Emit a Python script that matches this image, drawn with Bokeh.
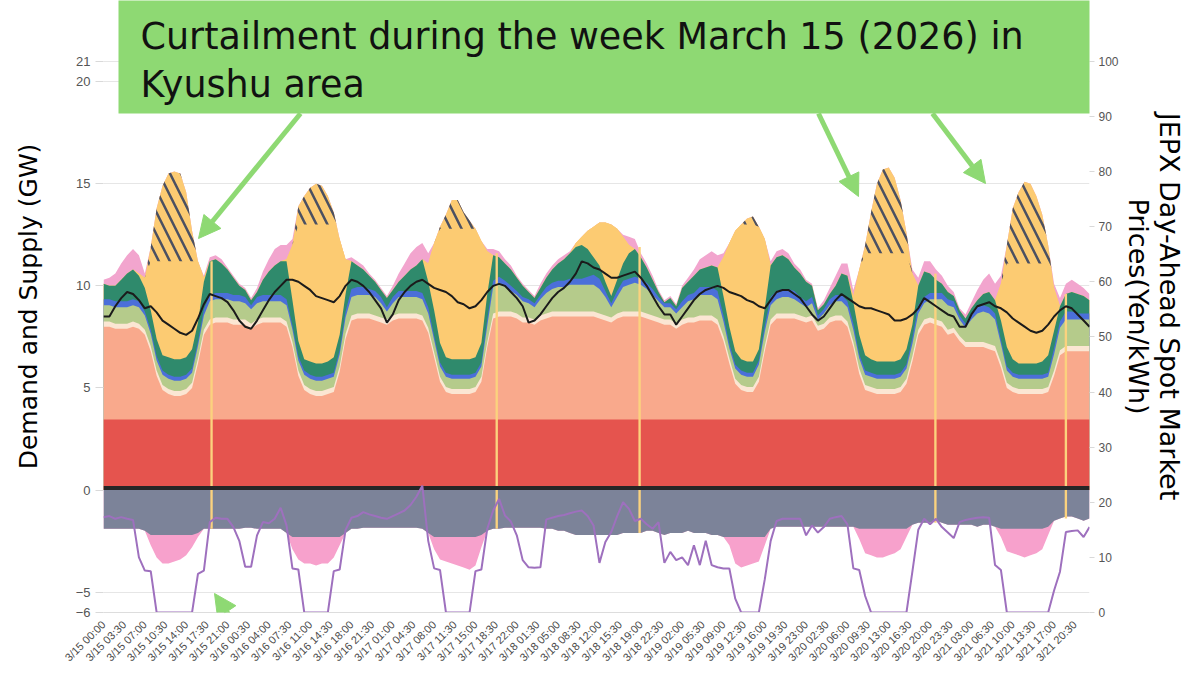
import numpy as np
from bokeh.plotting import figure
from bokeh.models import Range1d, LinearAxis, FixedTicker, BoxAnnotation, Label, Arrow, NormalHead
from bokeh.embed import file_html
from bokeh.resources import INLINE

# ---------------- data (hourly readings, hours since 3/15 00:00) ----------------
hours = list(range(168))

x_tick_labels = [
    "3/15 00:00", "3/15 03:30", "3/15 07:00", "3/15 10:30", "3/15 14:00", "3/15 17:30", "3/15 21:00",
    "3/16 00:30", "3/16 04:00", "3/16 07:30", "3/16 11:00", "3/16 14:30", "3/16 18:00", "3/16 21:30",
    "3/17 01:00", "3/17 04:30", "3/17 08:00", "3/17 11:30", "3/17 15:00", "3/17 18:30", "3/17 22:00",
    "3/18 01:30", "3/18 05:00", "3/18 08:30", "3/18 12:00", "3/18 15:30", "3/18 19:00", "3/18 22:30",
    "3/19 02:00", "3/19 05:30", "3/19 09:00", "3/19 12:30", "3/19 16:00", "3/19 19:30", "3/19 23:00",
    "3/20 02:30", "3/20 06:00", "3/20 09:30", "3/20 13:00", "3/20 16:30", "3/20 20:00", "3/20 23:30",
    "3/21 03:00", "3/21 06:30", "3/21 10:00", "3/21 13:30", "3/21 17:00", "3/21 20:30",
]
left_ticks = [-6, -5, 0, 5, 10, 15, 20, 21]
right_ticks = [0, 10, 20, 30, 40, 50, 60, 70, 80, 90, 100]

other_gw = 0.2      # thin dark band at zero
nuclear_gw = 3.25   # flat red band
biomass_gw = 0.25   # thin cream band on top of thermal

thermal_gw = [
    4.55, 4.55, 4.45, 4.45, 4.45, 4.55, 4.45, 4.15, 3.35, 2.15, 1.45, 1.25, 1.15, 1.15, 1.25, 1.55, 2.75, 4.15, 4.65, 4.75, 4.75, 4.75, 4.65, 4.65,
    4.65, 4.45, 4.65, 4.75, 4.75, 4.75, 4.75, 4.55, 3.55, 2.15, 1.45, 1.25, 1.15, 1.15, 1.25, 1.35, 2.35, 3.95, 4.85, 4.95, 4.95, 4.95, 4.85, 4.75,
    4.65, 4.85, 4.95, 4.95, 4.95, 4.95, 4.85, 4.25, 3.05, 1.85, 1.35, 1.25, 1.25, 1.25, 1.25, 1.35, 1.85, 3.55, 4.95, 5.05, 5.05, 5.05, 4.95, 4.75,
    4.75, 4.65, 4.85, 4.95, 5.05, 5.05, 5.05, 5.05, 5.05, 5.05, 5.05, 5.05, 4.95, 4.85, 4.75, 4.95, 5.05, 5.05, 5.05, 5.05, 4.95, 4.85, 4.75, 4.65,
    4.65, 4.45, 4.65, 4.75, 4.75, 4.85, 4.85, 4.85, 4.65, 3.85, 2.75, 1.75, 1.45, 1.35, 1.35, 1.85, 3.35, 4.65, 4.95, 4.95, 4.95, 4.95, 4.85, 4.75,
    4.85, 4.35, 4.45, 4.75, 4.85, 4.85, 4.55, 3.55, 2.25, 1.45, 1.35, 1.25, 1.25, 1.25, 1.25, 1.35, 1.75, 2.85, 4.15, 4.65, 4.75, 4.65, 4.55, 4.15,
    4.25, 3.85, 3.55, 3.55, 3.55, 3.55, 3.45, 3.35, 2.55, 1.55, 1.35, 1.25, 1.25, 1.25, 1.25, 1.25, 1.35, 2.15, 3.15, 3.35, 3.35, 3.35, 3.35, 3.35,
]
geothermal_gw = [
    0.8, 0.8, 0.8, 0.8, 0.8, 0.8, 0.8, 0.7, 0.6, 0.5, 0.5, 0.5, 0.5, 0.5, 0.5, 0.5, 0.6, 0.7, 0.9, 0.9, 0.9, 0.9, 0.9, 0.9,
    0.8, 0.7, 0.8, 0.8, 0.8, 0.8, 0.8, 0.8, 0.6, 0.5, 0.5, 0.5, 0.5, 0.5, 0.5, 0.5, 0.6, 0.8, 0.9, 0.9, 0.9, 0.9, 0.9, 0.7,
    0.4, 0.6, 0.8, 0.8, 0.8, 0.8, 0.8, 0.7, 0.6, 0.5, 0.5, 0.5, 0.5, 0.5, 0.5, 0.5, 0.5, 0.8, 1.3, 1.4, 1.2, 1.0, 0.9, 0.8,
    0.7, 0.6, 0.8, 1.0, 1.1, 1.2, 1.2, 1.3, 1.3, 1.3, 1.3, 1.3, 1.2, 0.9, 0.5, 0.8, 1.2, 1.3, 1.4, 1.3, 1.2, 1.0, 0.8, 0.6,
    0.6, 0.5, 0.6, 0.8, 0.9, 1.0, 1.0, 1.0, 1.0, 0.7, 0.5, 0.5, 0.5, 0.5, 0.5, 0.6, 0.7, 0.7, 0.7, 0.8, 0.8, 0.7, 0.6, 0.5,
    0.6, 0.3, 0.5, 0.6, 0.7, 0.7, 0.7, 0.6, 0.5, 0.5, 0.5, 0.5, 0.5, 0.5, 0.5, 0.5, 0.5, 0.6, 0.8, 0.8, 0.9, 1.0, 1.1, 1.2,
    1.0, 0.8, 0.7, 1.1, 1.4, 1.5, 1.5, 1.3, 0.9, 0.6, 0.5, 0.5, 0.5, 0.5, 0.5, 0.5, 0.5, 0.8, 1.1, 1.3, 1.3, 1.3, 1.3, 1.3,
]
wind_gw = [
    0.3, 0.3, 0.3, 0.3, 0.3, 0.3, 0.3, 0.2, 0.2, 0.2, 0.2, 0.2, 0.2, 0.2, 0.2, 0.2, 0.2, 0.3, 0.3, 0.3, 0.3, 0.3, 0.3, 0.3,
    0.3, 0.2, 0.3, 0.3, 0.3, 0.3, 0.3, 0.3, 0.2, 0.2, 0.2, 0.2, 0.2, 0.2, 0.2, 0.2, 0.2, 0.3, 0.4, 0.4, 0.4, 0.3, 0.3, 0.3,
    0.2, 0.3, 0.3, 0.3, 0.3, 0.3, 0.3, 0.3, 0.2, 0.2, 0.2, 0.2, 0.2, 0.2, 0.2, 0.2, 0.2, 0.3, 0.3, 0.3, 0.3, 0.25, 0.2, 0.2,
    0.2, 0.2, 0.2, 0.3, 0.3, 0.3, 0.3, 0.3, 0.3, 0.3, 0.4, 0.5, 0.5, 0.3, 0.2, 0.3, 0.3, 0.3, 0.3, 0.3, 0.3, 0.3, 0.2, 0.2,
    0.2, 0.2, 0.3, 0.3, 0.3, 0.4, 0.4, 0.4, 0.4, 0.3, 0.2, 0.2, 0.2, 0.2, 0.2, 0.2, 0.3, 0.4, 0.4, 0.4, 0.4, 0.4, 0.3, 0.3,
    0.3, 0.2, 0.2, 0.3, 0.3, 0.3, 0.3, 0.3, 0.2, 0.2, 0.2, 0.2, 0.2, 0.2, 0.2, 0.2, 0.2, 0.3, 0.4, 0.3, 0.3, 0.3, 0.3, 0.3,
    0.3, 0.2, 0.2, 0.3, 0.3, 0.3, 0.3, 0.3, 0.2, 0.2, 0.2, 0.2, 0.2, 0.2, 0.2, 0.2, 0.2, 0.3, 0.3, 0.4, 0.4, 0.3, 0.3, 0.3,
]
hydro_gw = [
    0.75, 0.65, 0.75, 1.05, 1.35, 1.45, 1.25, 1.15, 0.95, 0.85, 0.75, 0.85, 0.85, 0.85, 0.85, 0.95, 0.95, 1.35, 1.65, 1.65, 1.45, 1.15, 0.85, 0.45,
    0.35, 0.25, 0.25, 0.75, 1.15, 1.45, 1.65, 1.85, 1.25, 0.75, 0.55, 0.65, 0.65, 0.65, 0.65, 0.75, 0.75, 0.85, 1.35, 1.05, 0.85, 0.65, 0.45, 0.35,
    0.45, 0.35, 0.45, 0.75, 1.05, 1.25, 1.65, 1.25, 1.25, 0.95, 0.75, 0.75, 0.75, 0.75, 0.75, 0.75, 0.95, 1.25, 1.25, 0.95, 0.85, 0.8, 0.65, 0.55,
    0.35, 0.25, 0.35, 0.45, 0.65, 0.85, 1.05, 1.25, 1.55, 1.65, 1.35, 0.85, 0.65, 0.45, 0.35, 0.55, 0.85, 1.25, 1.35, 1.05, 0.75, 0.45, 0.25, 0.05,
    0.25, 0.15, 0.65, 0.65, 0.85, 0.85, 0.95, 1.05, 1.15, 0.95, 0.85, 0.65, 0.55, 0.55, 0.55, 0.55, 0.85, 1.55, 1.65, 1.65, 1.45, 1.15, 1.15, 0.95,
    0.55, 0.25, 0.25, 0.25, 0.45, 1.05, 1.25, 1.05, 0.95, 0.75, 0.65, 0.65, 0.65, 0.65, 0.65, 0.65, 0.75, 0.65, 0.95, 1.25, 0.95, 0.65, 0.45, 0.35,
    0.25, 0.25, 0.25, 0.25, 0.35, 0.55, 0.75, 0.65, 0.95, 0.95, 0.65, 0.55, 0.55, 0.55, 0.55, 0.65, 0.85, 0.85, 0.75, 0.85, 0.95, 0.95, 0.85, 0.65,
]
solar_gw = [
    0, 0, 0, 0, 0, 0, 0.1, 0.5, 2.4, 3.8, 4.6, 4.7, 4.8, 4.8, 4.7, 4.3, 3.0, 0.2, 0, 0, 0, 0, 0, 0,
    0, 0, 0, 0, 0, 0, 0, 0.1, 2.7, 5.7, 6.6, 6.7, 6.8, 6.8, 6.7, 6.5, 4.7, 1.7, 0, 0, 0, 0, 0, 0,
    0, 0, 0, 0, 0, 0, 0, 0.9, 3.3, 5.6, 6.3, 6.4, 6.4, 6.4, 6.4, 6.3, 5.0, 2.1, 0, 0, 0, 0, 0, 0,
    0, 0, 0, 0, 0, 0, 0, 0, 0.2, 0.4, 0.9, 1.5, 2.1, 2.9, 3.5, 2.5, 1.3, 0.4, 0, 0, 0, 0, 0, 0,
    0, 0, 0, 0, 0, 0, 0, 0, 0, 1.9, 4.1, 5.9, 6.6, 6.7, 6.7, 6.0, 3.4, 0, 0, 0, 0, 0, 0, 0,
    0, 0, 0, 0, 0, 0, 0, 0.3, 3.2, 5.0, 5.2, 5.3, 5.3, 5.3, 5.3, 5.2, 4.7, 2.5, 0, 0, 0, 0, 0, 0,
    0, 0, 0, 0, 0, 0, 0, 0, 1.8, 4.1, 4.7, 4.9, 4.9, 4.9, 4.9, 4.8, 4.5, 2.1, 0, 0, 0, 0, 0, 0,
]
curtailed_gw = [
    0, 0, 0, 0, 0, 0, 0, 0, 0.7, 2.6, 3.7, 4.3, 4.4, 4.3, 3.4, 1.5, 0, 0, 0, 0, 0, 0, 0, 0,
    0, 0, 0, 0, 0, 0, 0, 0, 0, 0.9, 1.4, 1.8, 2.0, 1.9, 1.4, 0.6, 0, 0, 0, 0, 0, 0, 0, 0,
    0, 0, 0, 0, 0, 0, 0, 0, 0, 0.1, 0.7, 1.4, 1.4, 0.8, 0.4, 0, 0, 0, 0, 0, 0, 0, 0, 0,
    0, 0, 0, 0, 0, 0, 0, 0, 0, 0, 0, 0, 0, 0, 0, 0, 0, 0, 0, 0, 0, 0, 0, 0,
    0, 0, 0, 0, 0, 0, 0, 0, 0, 0, 0, 0, 0, 0.3, 0.4, 0, 0, 0, 0, 0, 0, 0, 0, 0,
    0, 0, 0, 0, 0, 0, 0, 0, 0, 0.4, 2.0, 3.4, 4.1, 4.2, 3.7, 2.6, 1.0, 0, 0, 0, 0, 0, 0, 0,
    0, 0, 0, 0, 0, 0, 0, 0, 0, 0.9, 2.7, 3.5, 4.0, 3.9, 3.3, 2.4, 0.9, 0, 0, 0, 0, 0, 0, 0,
]
pumped_gen_gw = [
    0.2, 0.4, 0.6, 0.8, 0.9, 1.0, 0.9, 0.2, 0, 0, 0, 0, 0, 0, 0, 0, 0, 0.1, 0.2, 0.2, 0.2, 0.1, 0.1, 0.1,
    0.1, 0.1, 0.2, 0.4, 0.6, 0.8, 0.8, 0.7, 0.3, 0, 0, 0, 0, 0, 0, 0, 0, 0, 0.2, 0.2, 0.2, 0.1, 0.1, 0.1,
    0.1, 0.2, 0.4, 0.6, 0.8, 0.9, 0.8, 0.5, 0, 0, 0, 0, 0, 0, 0, 0, 0, 0.1, 0.3, 0.3, 0.2, 0.2, 0.1, 0.1,
    0.1, 0.1, 0.2, 0.2, 0.2, 0.2, 0.2, 0.1, 0, 0, 0, 0, 0, 0, 0, 0, 0.1, 0.4, 0.5, 0.2, 0.2, 0.2, 0.1, 0.1,
    0.1, 0.1, 0.1, 0.2, 0.3, 0.5, 0.6, 0.7, 0.6, 0.2, 0, 0, 0, 0, 0, 0, 0, 0.2, 0.3, 0.3, 0.3, 0.2, 0.2, 0.1,
    0.1, 0.1, 0.2, 0.3, 0.5, 0.5, 0.6, 0.3, 0, 0, 0, 0, 0, 0, 0, 0, 0, 0.2, 0.4, 0.5, 0.6, 0.5, 0.4, 0.3,
    0.2, 0.1, 0.2, 0.3, 0.5, 0.7, 0.9, 0.8, 0.4, 0, 0, 0, 0, 0, 0, 0, 0, 0.2, 0.4, 0.5, 0.6, 0.5, 0.4, 0.3,
]
export_gw = [
    1.9, 1.9, 1.9, 1.9, 1.9, 1.9, 1.9, 2.0, 2.2, 2.2, 2.2, 2.2, 2.2, 2.2, 2.2, 2.2, 2.1, 1.9, 1.9, 1.9, 1.9, 1.9, 1.9, 1.9,
    1.85, 1.85, 1.9, 1.9, 1.9, 1.9, 1.9, 2.1, 2.3, 2.3, 2.3, 2.3, 2.3, 2.3, 2.3, 2.3, 2.3, 2.1, 1.9, 1.9, 1.85, 1.85, 1.85, 1.85,
    1.85, 1.85, 1.85, 1.85, 1.85, 1.85, 1.9, 2.1, 2.3, 2.3, 2.3, 2.3, 2.3, 2.3, 2.3, 2.3, 2.2, 2.0, 1.9, 1.9, 1.85, 1.85, 1.85, 1.85,
    1.85, 1.85, 1.85, 1.9, 1.9, 2.0, 2.0, 2.1, 2.2, 2.2, 2.2, 2.2, 2.2, 2.2, 2.2, 2.2, 2.1, 2.1, 2.1, 2.1, 2.0, 2.0, 2.1, 2.2,
    2.1, 2.1, 2.1, 2.0, 2.1, 2.1, 2.1, 2.2, 2.2, 2.3, 2.3, 2.3, 2.3, 2.3, 2.3, 2.3, 2.3, 1.9, 1.8, 1.8, 1.8, 1.8, 1.8, 1.8,
    1.8, 1.8, 1.8, 1.8, 1.8, 1.8, 1.8, 1.8, 1.9, 1.9, 1.9, 1.9, 1.9, 1.9, 1.9, 1.9, 1.9, 1.7, 1.6, 1.6, 1.6, 1.5, 1.6, 1.7,
    1.7, 1.7, 1.7, 1.7, 1.8, 1.7, 1.7, 1.8, 1.9, 1.9, 1.9, 1.9, 1.9, 1.9, 1.9, 1.9, 1.8, 1.5, 1.4, 1.3, 1.3, 1.4, 1.5, 1.4,
]
pumping_gw = [
    0, 0, 0, 0, 0, 0, 0, 0, 0.5, 1.1, 1.4, 1.4, 1.3, 1.2, 1.0, 0.6, 0.2, 0, 0, 0, 0, 0, 0, 0,
    0, 0, 0, 0, 0, 0, 0, 0, 0.6, 1.1, 1.3, 1.3, 1.4, 1.3, 1.3, 1.0, 0.4, 0, 0, 0, 0, 0, 0, 0,
    0, 0, 0, 0, 0, 0, 0, 0, 0.6, 1.1, 1.2, 1.3, 1.4, 1.5, 1.6, 1.4, 0.6, 0, 0, 0, 0, 0, 0, 0,
    0, 0, 0, 0, 0, 0, 0, 0, 0, 0, 0, 0, 0, 0, 0, 0, 0, 0, 0, 0, 0, 0, 0, 0,
    0, 0, 0, 0, 0, 0, 0, 0, 0, 0, 0.4, 1.3, 1.5, 1.4, 1.3, 1.2, 0.4, 0, 0, 0, 0, 0, 0, 0,
    0, 0, 0, 0, 0, 0, 0, 0, 0.5, 1.2, 1.3, 1.4, 1.4, 1.3, 1.2, 1.0, 0.4, 0, 0, 0, 0, 0, 0, 0,
    0, 0, 0, 0, 0, 0, 0, 0, 0.4, 1.1, 1.2, 1.3, 1.4, 1.3, 1.2, 1.0, 0.4, 0, 0, 0, 0, 0, 0, 0,
]
demand_gw = [
    8.5, 8.5, 9.0, 9.4, 9.7, 9.6, 9.3, 8.9, 9.0, 8.7, 8.3, 8.1, 7.9, 7.7, 7.6, 7.8, 8.4, 9.1, 9.6, 9.5, 9.4, 9.2, 8.8, 8.3,
    8.0, 7.9, 8.3, 8.8, 9.3, 9.7, 10.0, 10.3, 10.3, 10.2, 10.0, 9.8, 9.5, 9.4, 9.3, 9.2, 9.5, 10.0, 10.3, 10.2, 10.0, 9.7, 9.3, 8.9,
    8.2, 8.6, 9.3, 9.7, 10.0, 10.2, 10.3, 10.1, 9.9, 9.8, 9.7, 9.5, 9.2, 9.1, 8.9, 9.0, 9.3, 9.7, 10.0, 10.1, 10.0, 9.7, 9.4, 9.0,
    8.2, 8.3, 8.6, 9.0, 9.4, 9.7, 9.9, 10.2, 10.6, 11.2, 11.1, 10.9, 10.8, 10.6, 10.4, 10.4, 10.5, 10.6, 10.7, 10.4, 10.0, 9.5, 9.0, 8.6,
    8.6, 8.1, 8.5, 8.9, 9.3, 9.6, 9.8, 9.9, 10.0, 9.9, 9.7, 9.6, 9.5, 9.3, 9.2, 9.0, 8.9, 9.3, 9.7, 9.8, 9.8, 9.6, 9.4, 9.0,
    8.6, 8.3, 8.5, 8.9, 9.3, 9.6, 9.4, 9.2, 9.0, 8.9, 8.9, 8.8, 8.7, 8.6, 8.3, 8.3, 8.4, 8.6, 8.9, 9.4, 9.2, 9.0, 8.8, 8.6,
    8.5, 8.0, 8.0, 8.6, 9.0, 9.1, 9.2, 9.0, 8.9, 8.7, 8.4, 8.2, 8.0, 7.8, 7.7, 7.8, 8.1, 8.5, 8.8, 9.0, 8.9, 8.6, 8.3, 8.0,
]
price_yen = [
    17.3, 17.5, 17.0, 17.3, 17.0, 16.8, 10.0, 7.6, 7.5, 0.01, 0.01, 0.01, 0.01, 0.01, 0.01, 0.01, 7.0, 7.6, 16.4, 17.2, 17.0, 17.0, 15.5, 13.0,
    8.3, 8.3, 14.0, 16.4, 16.2, 17.0, 19.0, 15.8, 8.0, 7.8, 0.01, 0.01, 0.01, 0.01, 0.01, 7.5, 7.8, 15.0, 17.2, 17.5, 18.2, 17.8, 17.5, 17.2,
    17.0, 17.5, 18.0, 18.5, 19.5, 21.0, 23.0, 13.0, 8.0, 7.7, 0.01, 0.01, 0.01, 0.01, 0.01, 7.5, 7.8, 15.2, 18.5, 20.6, 17.6, 16.5, 14.0, 9.5,
    8.2, 8.1, 8.2, 16.9, 17.2, 17.5, 17.7, 18.0, 18.3, 18.5, 17.5, 15.8, 9.0, 12.8, 14.6, 17.5, 20.0, 18.8, 16.6, 17.0, 16.0, 15.2, 16.4, 9.0,
    11.0, 9.5, 10.0, 8.6, 12.2, 8.6, 13.0, 8.6, 8.2, 8.0, 8.0, 2.5, 0.01, 0.01, 0.01, 0.01, 6.0, 13.0, 16.6, 17.0, 17.0, 17.0, 17.0, 14.0,
    15.8, 14.5, 15.5, 17.0, 17.3, 17.5, 16.0, 8.0, 7.7, 3.0, 0.01, 0.01, 0.01, 0.01, 0.01, 0.01, 0.01, 7.4, 15.0, 17.0, 16.0, 17.0, 15.5, 14.5,
    13.5, 16.4, 16.8, 17.0, 17.2, 17.3, 17.2, 8.6, 7.7, 0.01, 0.01, 0.01, 0.01, 0.01, 0.01, 0.01, 0.01, 4.0, 7.4, 14.6, 14.8, 14.9, 13.7, 15.5,
]
# thin yellow vertical data artefacts
spike_hours = [18.3, 66.6, 90.8, 140.9, 163.0]
spike_top = [11.2, 11.6, 11.9, 10.6, 9.6]
spike_bottom = [-1.9, -1.9, -2.1, -1.6, -1.4]

# ---------------- stacking ----------------
x = np.array(hours, dtype=float)
n = len(hours)
b1 = np.full(n, other_gw)
b2 = b1 + nuclear_gw
b3 = b2 + np.array(thermal_gw)
b4 = b3 + biomass_gw
b5 = b4 + np.array(geothermal_gw)
b6 = b5 + np.array(wind_gw)
b7 = b6 + np.array(hydro_gw)
b8 = b7 + np.array(solar_gw)
b9 = b8 + np.array(curtailed_gw)
b10 = b9 + np.array(pumped_gen_gw)
n1 = -np.array(export_gw)
n2 = n1 - np.array(pumping_gw)

C_BLACK = "#262626"
C_RED = "#E5544E"
C_SALMON = "#F9A98C"
C_CREAM = "#FBE6D3"
C_OLIVE = "#B5CB8B"
C_BLUE = "#4B6FD9"
C_TEAL = "#2F8A6C"
C_SOLAR = "#FCCB72"
C_PINK = "#F2A5CE"
C_GRAY = "#7C8399"
C_PINKNEG = "#F7A1CC"
GREEN = "#8ED973"

# frame reaches the canvas top so the callout can overlap it; the axes keep the -6..21 / 0..100 scales
FRAME_H = 553          # pixel height of the -6..21 span
EXTRA_TOP = 61         # pixels between canvas top and the "21" tick
px_per_gw = FRAME_H / 27.0
y_top = 21 + EXTRA_TOP / px_per_gw
p_top = 100 + EXTRA_TOP / (FRAME_H / 100.0)

p = figure(width=1188, height=670, x_range=Range1d(0, 167), y_range=Range1d(-6, y_top),
           output_backend="svg", toolbar_location=None, title=None,
           min_border_left=103, min_border_right=88, min_border_top=0, min_border_bottom=56)
p.outline_line_color = None
p.background_fill_color = "white"
p.border_fill_color = "white"

# positive stack, painted top layer first (each from zero) to avoid seams
for top, col in [(b10, C_PINK), (b9, C_SOLAR), (b8, C_SOLAR), (b7, C_TEAL), (b6, C_BLUE),
                 (b5, C_OLIVE), (b4, C_CREAM), (b3, C_SALMON), (b2, C_RED)]:
    p.varea(x=x, y1=0, y2=top, fill_color=col)
# hatched curtailment
p.varea(x=x, y1=b8, y2=b9, fill_alpha=0, hatch_pattern="\\", hatch_color="#4b5061",
        hatch_scale=22, hatch_weight=2.5, hatch_alpha=1.0)
# negative side
p.varea(x=x, y1=0, y2=n2, fill_color=C_PINKNEG)
p.varea(x=x, y1=0, y2=n1, fill_color=C_GRAY)
# yellow artefact bars
p.vbar(x=spike_hours, width=0.4, bottom=spike_bottom, top=spike_top, fill_color="#FBD27E", line_color=None)
# dark band at zero
p.varea(x=x, y1=0, y2=b1, fill_color=C_BLACK)

# demand line and price line
p.line(x, demand_gw, line_color="#1b1b1b", line_width=2)
p.extra_y_ranges = {"price": Range1d(0, p_top)}
p.line(x, price_yen, y_range_name="price", line_color="#9E70BE", line_width=2)

# axes
p.xgrid.grid_line_color = None
p.ygrid.grid_line_color = "#e6e6e6"
tick_pos = [i * 3.5 for i in range(len(x_tick_labels))]
p.xaxis.ticker = FixedTicker(ticks=tick_pos)
p.xaxis.major_label_overrides = {(int(t) if float(t).is_integer() else t): lab for t, lab in zip(tick_pos, x_tick_labels)}
p.xaxis.major_label_orientation = np.pi / 4
p.xaxis.major_label_standoff = 4
p.xaxis.major_label_text_font = "Liberation Sans"
p.xaxis.major_label_text_font_size = "11px"
p.xaxis.major_label_text_color = "#4a4a4a"
p.xaxis.axis_line_color = "#dddddd"
p.xaxis.major_tick_line_color = None
p.xaxis.minor_tick_line_color = None

yl = p.yaxis[0]
yl.ticker = FixedTicker(ticks=left_ticks)
yl.axis_label = "Demand and Supply (GW)"
yl.axis_label_text_font = "DejaVu Sans"
yl.axis_label_text_font_size = "25px"
yl.axis_label_text_font_style = "normal"
yl.axis_label_text_color = "black"
yl.axis_label_standoff = 30
yl.major_label_text_font = "Liberation Sans"
yl.major_label_text_font_size = "13px"
yl.major_label_text_color = "#555555"
yl.axis_line_color = None
yl.major_tick_line_color = "#d9d9d9"
yl.major_tick_out = 8
yl.major_tick_in = 0
yl.minor_tick_line_color = None

yr = LinearAxis(y_range_name="price", ticker=FixedTicker(ticks=right_ticks))
yr.axis_label = "JEPX Day-Ahead Spot Market\nPrices(Yen/kWh)"
yr.axis_label_text_font = "DejaVu Sans"
yr.axis_label_text_font_size = "27px"
yr.axis_label_text_font_style = "normal"
yr.axis_label_text_color = "black"
yr.axis_label_text_line_height = 1.02
yr.axis_label_standoff = 1
yr.major_label_standoff = 4
yr.major_label_text_font = "Liberation Sans"
yr.major_label_text_font_size = "12px"
yr.major_label_text_color = "#555555"
yr.axis_line_color = None
yr.major_tick_line_color = "#d9d9d9"
yr.major_tick_out = 5
yr.major_tick_in = 0
yr.minor_tick_line_color = None
p.add_layout(yr, "right")

# callout box, text and arrows (screen units, relative to the plot frame's lower-left corner)
p.add_layout(BoxAnnotation(left=15, right=990, bottom=499, top=614,
                           left_units="screen", right_units="screen", top_units="screen", bottom_units="screen",
                           fill_color=GREEN, fill_alpha=1.0, line_color=None))
p.add_layout(Label(x=37, y=598, x_units="screen", y_units="screen",
                   text="Curtailment during the week March 15 (2026) in\nKyushu area",
                   text_font="DejaVu Sans", text_font_size="36.5px", text_color="#111111",
                   text_align="left", text_baseline="top", text_line_height=1.12))
for (xs, ys, xe, ye) in [(197, 499, 95, 374), (715, 499, 755, 416), (829, 499, 882, 429), (172, -72, 111, 19)]:
    p.add_layout(Arrow(end=NormalHead(size=22, fill_color=GREEN, line_color=GREEN),
                       x_start=xs, y_start=ys, x_end=xe, y_end=ye,
                       start_units="screen", end_units="screen",
                       line_color=GREEN, line_width=5))

open("out.html", "w").write(file_html(p, INLINE, title="Kyushu curtailment"))
